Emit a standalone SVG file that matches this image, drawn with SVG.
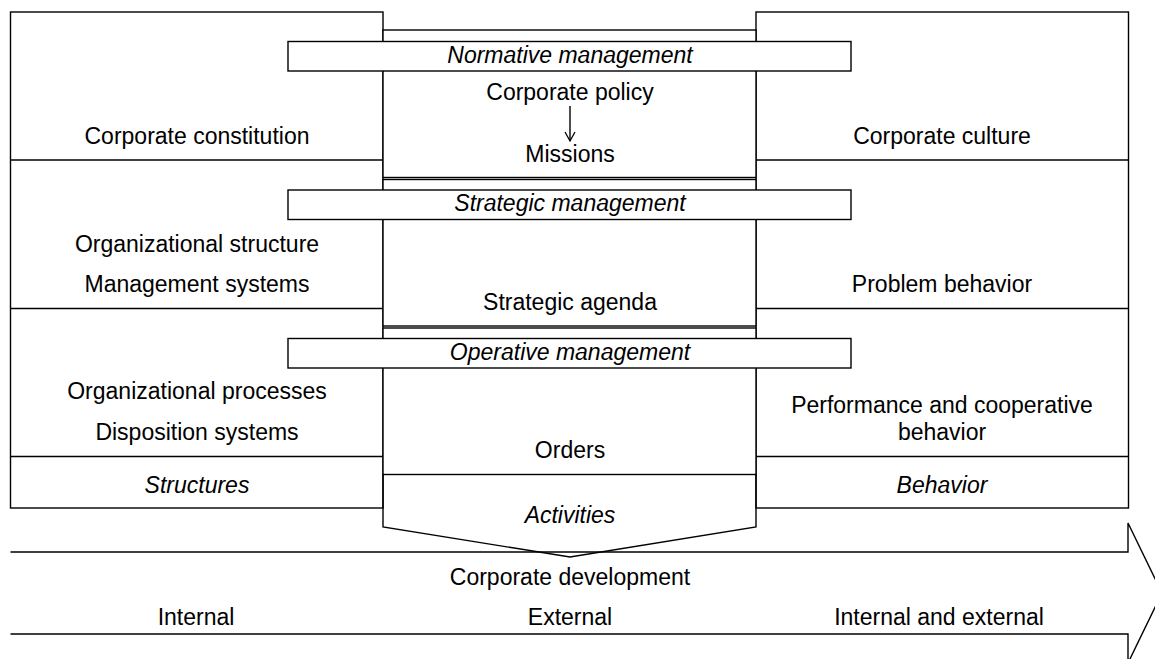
<svg xmlns="http://www.w3.org/2000/svg" width="1155" height="659" viewBox="0 0 1155 659">
<style>
.s{fill:none;stroke:#000;stroke-width:1.4}
.w{fill:#fff;stroke:#000;stroke-width:1.4}
text{font-family:"Liberation Sans",Arial,sans-serif;font-size:23px;fill:#000;text-anchor:middle}
.i{font-style:italic}
</style>
<defs>
<marker id="ah" viewBox="0 0 12 12" refX="10" refY="6" markerWidth="12" markerHeight="12" markerUnits="userSpaceOnUse" orient="auto">
<path d="M1,1 L10,6 L1,11" fill="none" stroke="#000" stroke-width="1.3"/>
</marker>
</defs>
<rect width="1155" height="659" fill="#fff"/>
<g id="big-arrow">
<path class="s" d="M10.5,552 H1128 V523 L1162,593 L1128,663 V634 H10.5"/>
<text x="570" y="585">Corporate development</text>
<text x="196" y="625">Internal</text>
<text x="570" y="625">External</text>
<text x="939" y="625">Internal and external</text>
</g>
<g id="left">
<rect class="s" x="10.5" y="12" width="372.5" height="496"/>
<line class="s" x1="10.5" y1="160" x2="383" y2="160"/>
<line class="s" x1="10.5" y1="308.5" x2="383" y2="308.5"/>
<line class="s" x1="10.5" y1="456.5" x2="383" y2="456.5"/>
<text x="197" y="144">Corporate constitution</text>
<text x="197" y="252">Organizational structure</text>
<text x="197" y="292">Management systems</text>
<text x="197" y="399">Organizational processes</text>
<text x="197" y="440">Disposition systems</text>
<text class="i" x="197" y="493">Structures</text>
</g>
<g id="right">
<rect class="s" x="756" y="12" width="372.5" height="496"/>
<line class="s" x1="756" y1="160" x2="1128.5" y2="160"/>
<line class="s" x1="756" y1="308.5" x2="1128.5" y2="308.5"/>
<line class="s" x1="756" y1="456.5" x2="1128.5" y2="456.5"/>
<text x="942" y="144">Corporate culture</text>
<text x="942" y="292">Problem behavior</text>
<text x="942" y="413">Performance and cooperative</text>
<text x="942" y="440">behavior</text>
<text class="i" x="942" y="493">Behavior</text>
</g>
<g id="activities">
<path class="s" d="M383,474.5 V527 L570,557 L756,527 V474.5"/>
<text class="i" x="570" y="523">Activities</text>
</g>
<g id="normative">
<rect class="w" x="383" y="30" width="373" height="147.5"/>
<rect class="w" x="288" y="41.5" width="563" height="29.5"/>
<text class="i" x="570" y="63">Normative management</text>
<text x="570" y="100">Corporate policy</text>
<text x="570" y="162">Missions</text>
</g>
<g id="strategic">
<rect class="w" x="383" y="179.5" width="373" height="146.5"/>
<rect class="w" x="288" y="190" width="563" height="29.5"/>
<text class="i" x="570" y="211">Strategic management</text>
<text x="570" y="310">Strategic agenda</text>
</g>
<g id="operative">
<rect class="w" x="383" y="328" width="373" height="146.5"/>
<rect class="w" x="288" y="338.5" width="563" height="29.5"/>
<text class="i" x="570" y="360">Operative management</text>
<text x="570" y="458">Orders</text>
</g>
<g id="connectors">
<line class="s" x1="570" y1="106" x2="570" y2="141" marker-end="url(#ah)"/>
</g>
</svg>
